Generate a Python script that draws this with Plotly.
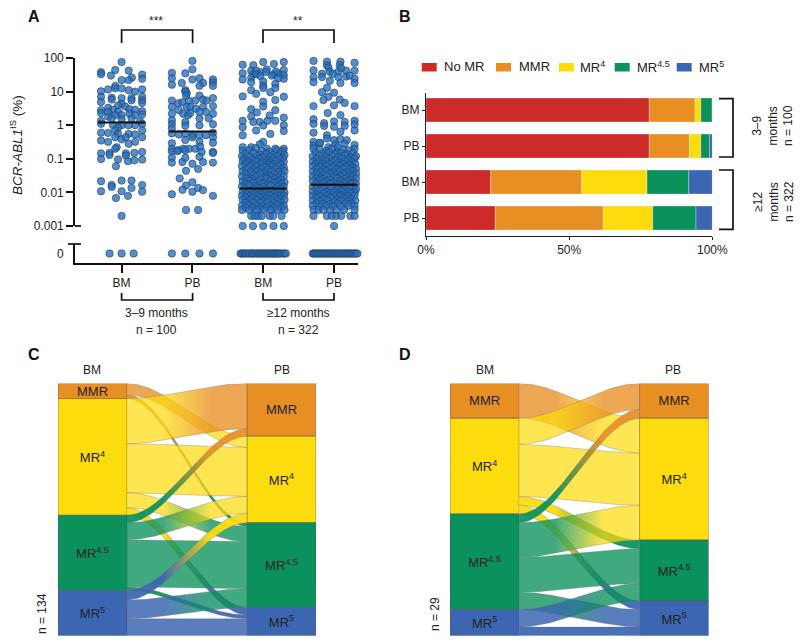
import numpy as np
import plotly.graph_objects as go

FONT = "Liberation Sans"
INK = "#222222"

# ---------- Panel A: (swarm offset, BCR-ABL1 IS %) ----------
bm_early = [(0,76),(-.29,38),(-.29,33),(-.09,44),(-.15,30),(.1,42),(.29,32),(.29,24),(.145,26),(.1,22),(0,22),
(-.09,14.7),(-.29,10.2),(-.19,11.6),(-.09,12.5),(0,12.5),(.1,11),(.19,10),(.29,11.6),
(-.29,7),(-.14,6.6),(-.14,5.8),(0,6.4),(.14,6.4),(.14,5.5),(.29,7),(.29,5.5),(-.29,4.9),(.29,4.6),
(0,4.3),(-.05,3.9),(.05,3.6),(-.19,3.3),(-.29,2.8),(-.29,2.3),(-.12,2.9),(-.19,2.5),(-.05,2.5),(.11,3),(.19,2.9),(.29,2.6),(.29,2.1),(.11,2.2),(-.09,2),(0,2),(.19,2),(-.19,1.8),
(-.29,1.35),(-.14,1.6),(.14,1.6),(0,1.5),(.26,1.3),(-.29,1.1),(-.12,1),(0,1),(-.05,.85),(.1,1),(.19,1),(.29,1.1),
(-.29,.6),(-.19,.59),(-.09,.7),(-.05,.56),(.1,.55),(.19,.53),(.29,.7),(-.29,.35),(-.19,.32),(-.09,.44),(0,.38),(.06,.44),(.1,.28),(.19,.32),(.29,.44),
(-.07,.22),(-.09,.2),(-.29,.145),(-.29,.098),(-.17,.15),(-.17,.13),(-.05,.096),(-.08,.06),(.06,.145),(.06,.125),(.09,.085),(.18,.15),(.18,.09),(.29,.16),(.29,.095),
(-.29,.0215),(-.14,.0167),(-.14,.0145),(0,.0225),(.14,.0225),(.14,.0136),(.29,.0165),(.29,.0105),(-.29,.0108),(0,.0108),(-.08,.0068),(.09,.0079),(0,.002)]
bm_early_zero = [-.17,0,.17]

pb_early = [(0,82),(0,46),(-.1,35),(-.29,36),(-.29,25),(-.29,16),(-.15,18),(.1,25),(0,23),(.15,18),(.1,15),(.29,23),(.29,19),(.29,15),(-.1,11),(-.08,9),(-.1,10),
(-.29,5.4),(-.2,4.5),(-.14,4.8),(.1,7.6),(.04,5.4),(.15,5.8),(.2,5.4),(.29,6.4),(-.05,5.4),(-.09,7.6),
(-.29,3.5),(-.29,2.2),(-.19,2.8),(-.08,3.5),(-.03,3.5),(.05,3.1),(-.13,2.2),(-.06,2),(-.03,2.3),(.15,3.5),(.29,3.7),(.1,1.6),(.19,2.5),(.29,2.2),(.1,2.5),(-.29,1.4),(-.29,1.07),(-.1,1.25),(-.1,.98),(.23,1.6),(.29,1.07),(.1,1),
(-.29,.57),(-.19,.53),(-.1,.57),(0,.5),(.1,.5),(.19,.5),(.29,.6),(-.29,.8),(-.1,.36),(0,.44),(.1,.32),(.29,.44),(.29,.3),(-.29,.29),(-.29,.2),(-.2,.18),(-.13,.2),(-.05,.2),(.04,.2),(.11,.23),(.29,.16),
(-.29,.164),(-.21,.17),(-.1,.18),(.13,.16),(.29,.15),(-.29,.109),(-.29,.077),(-.14,.08),(-.1,.107),(.1,.115),(.15,.08),(.29,.077),(0,.071),(-.09,.044),(.08,.05),
(-.18,.026),(0,.02),(-.09,.016),(-.14,.012),(0,.0105),(.08,.0136),(.15,.0117),(-.29,.0088),(.29,.0079),(-.09,.003),(.08,.003)]
pb_early_zero = [-.29,-.1,.1,.29]

bm_late = [(-.29,63),(-.14,61),(0,76),(.15,66),(.29,76),(.05,46),(-.04,38),(.22,34),
(-.29,35),(-.29,23),(-.17,42),(-.14,33),(-.17,26),(-.17,19),(-.1,42),(-.1,33),(-.04,29),(.04,39),(.15,33),(.18,39),(.29,44),(.29,31),(.29,24),(.21,25),(.12,30),(0,20),(0,15),(0,12.8),(.17,17),(.17,12.8),(.1,9.6),(-.29,7.2),(-.17,11),(-.1,8.6),(.17,5.6),(.29,7),(0,5),(0,3.6),(-.17,3),(-.09,2.4),(.17,2.8),(.09,1.95),(-.17,1.8),(-.29,1.35),(-.29,.87),(-.29,.5),(-.14,1.25),(-.1,.7),(-.05,1.25),(0,.98),(.06,1.35),(.17,1.35),(.29,1.68),(.29,1),(.29,.67),(.1,.55),(0,.32),(-.05,.27),(-.29,.22),(-.17,.22),(.05,.2),(.17,.2),(.29,.2),
(-.29,.175),(-.19,.18),(-.1,.21),(-.02,.17),(.08,.16),(.19,.18),(.28,.17),
(-.25,.14),(-.14,.15),(-.05,.135),(.04,.14),(.13,.13),(.24,.145),(.3,.13),
(-.3,.12),(-.2,.115),(-.09,.12),(0,.11),(.1,.115),(.2,.12),(.28,.105),
(-.27,.1),(-.16,.095),(-.06,.1),(.05,.09),(.15,.1),(.24,.095),
(-.29,.085),(-.21,.08),(-.11,.085),(-.01,.08),(.09,.078),(.18,.085),(.29,.082),
(-.25,.07),(-.15,.068),(-.04,.07),(.06,.066),(.14,.07),(.25,.067),
(-.3,.06),(-.19,.058),(-.09,.06),(.02,.056),(.11,.06),(.21,.058),(.29,.056),
(-.24,.05),(-.13,.048),(-.03,.05),(.07,.047),(.17,.05),(.26,.048),
(-.29,.042),(-.18,.041),(-.08,.043),(.01,.04),(.12,.042),(.22,.04),(.3,.043),
(-.25,.036),(-.14,.034),(-.04,.036),(.06,.034),(.15,.035),(.25,.034),
(-.3,.03),(-.2,.029),(-.09,.03),(.03,.029),(.11,.03),(.2,.028),(.29,.03),
(-.24,.026),(-.15,.025),(-.05,.024),(.05,.026),(.16,.025),(.25,.024),
(-.29,.021),(-.19,.022),(-.08,.021),(.01,.02),(.1,.022),(.2,.021),(.3,.02),
(-.25,.018),(-.14,.019),(-.03,.018),(.07,.017),(.15,.019),(.26,.018),
(-.3,.015),(-.2,.016),(-.1,.015),(0,.0145),(.11,.016),(.21,.015),(.29,.0145),
(-.26,.013),(-.15,.0125),(-.05,.013),(.05,.012),(.16,.0125),(.25,.013),
(-.29,.0105),(-.19,.011),(-.09,.0105),(.02,.01),(.12,.011),(.2,.0105),(.3,.01),
(-.24,.009),(-.14,.0092),(-.04,.009),(.07,.0088),(.15,.009),(.26,.0092),
(-.3,.008),(-.2,.0078),(-.08,.008),(.01,.0076),(.1,.008),(.21,.0078),(.29,.008),
(-.25,.007),(-.15,.0068),(-.05,.007),(.05,.0066),(.16,.007),(.24,.0068),
(-.29,.006),(-.19,.0058),(-.09,.006),(0,.0056),(.11,.006),(.2,.0058),(.3,.006),
(-.25,.005),(-.14,.005),(-.04,.0049),(.06,.005),(.15,.0048),(.25,.005),
(-.3,.004),(-.2,.0042),(-.1,.004),(-.01,.0039),(.1,.004),(.2,.0042),(.29,.004),
(-.25,.0035),(-.15,.0035),(-.05,.0034),(.05,.0035),(.15,.0034),(.25,.0035),
(-.3,.003),(-.2,.003),(-.09,.003),(.01,.003),(.11,.003),(.2,.003),(.3,.003),
(-.17,.002),(-.12,.002),(-.07,.002),(-.02,.002),(.09,.002),(.14,.002),(.26,.002),
(-.29,.001),(-.145,.001),(0,.001),(.145,.001),(.29,.001)]
bm_late_zero = [-.32,-.3,-.28,-.26,-.24,-.21,-.19,-.16,-.15,-.13,-.1,-.08,-.06,-.04,-.02,0,.02,.04,.06,.08,.1,.12,.14,.15,.17,.19,.21,.23,.25,.28,.3,.32]

pb_late = [(-.29,82),(-.1,78),(.09,78),(.29,72),(-.29,43),(-.29,27),(-.29,19),(-.17,34),(-.17,27),(-.1,61),(-.08,52),(-.06,39),(.08,61),(.06,39),(.06,27),(.09,18),(.17,42),(.17,28),(.29,42),(.29,24),(.29,18),(-.06,21),(-.1,13),(-.17,9.6),(0,9.3),(-.08,7),(-.15,5.6),(-.29,3.7),(0,3.9),(.08,5.8),(.15,4.6),(.29,3.7),(-.09,2.3),(.09,2),(.1,50),(.22,30),(-.02,34),
(-.29,1.5),(-.29,1.1),(-.29,.6),(-.14,1.15),(-.14,.95),(0,1.3),(0,.9),(.15,1.25),(.15,.95),(.29,1.35),(.29,1.05),(.29,.7),(.09,.64),(-.1,.5),(-.1,.4),(0,.36),(-.29,.32),(-.29,.25),(-.2,.29),(.09,.38),(.18,.36),(.29,.26),(-.08,.22),(.02,.27),(.15,.28),(.05,.22),(-.2,.3),
(-.29,.2),(-.2,.19),(-.11,.17),(-.03,.2),(.05,.16),(.13,.19),(.21,.18),(.29,.2),
(-.26,.15),(-.16,.14),(-.07,.155),(.02,.14),(.1,.15),(.19,.135),(.27,.15),
(-.3,.12),(-.21,.125),(-.12,.115),(-.03,.12),(.07,.115),(.15,.125),(.24,.11),(.31,.12),
(-.25,.1),(-.17,.095),(-.07,.1),(.02,.092),(.11,.1),(.2,.095),(.29,.1),
(-.3,.083),(-.21,.08),(-.12,.085),(-.03,.08),(.07,.078),(.16,.083),(.25,.08),
(-.26,.07),(-.16,.068),(-.07,.07),(.03,.066),(.12,.07),(.21,.067),(.3,.07),
(-.3,.06),(-.2,.058),(-.11,.06),(-.02,.056),(.08,.06),(.17,.058),(.26,.056),
(-.25,.05),(-.15,.048),(-.06,.05),(.04,.047),(.13,.05),(.22,.048),(.31,.05),
(-.3,.042),(-.2,.041),(-.11,.043),(-.01,.04),(.08,.042),(.18,.04),(.27,.043),
(-.25,.036),(-.15,.034),(-.06,.036),(.04,.034),(.13,.035),(.23,.034),(.31,.036),
(-.3,.03),(-.2,.029),(-.1,.03),(-.01,.029),(.09,.03),(.18,.028),(.27,.03),
(-.25,.026),(-.16,.025),(-.06,.024),(.04,.026),(.14,.025),(.23,.024),(.31,.026),
(-.3,.022),(-.2,.022),(-.11,.021),(-.01,.02),(.09,.022),(.19,.021),(.28,.02),
(-.25,.018),(-.15,.019),(-.05,.018),(.05,.017),(.14,.019),(.24,.018),(.31,.018),
(-.3,.015),(-.2,.016),(-.1,.015),(0,.0145),(.09,.016),(.19,.015),(.28,.0145),
(-.25,.013),(-.15,.0125),(-.05,.013),(.05,.012),(.14,.0125),(.24,.013),(.31,.0125),
(-.3,.0105),(-.2,.011),(-.1,.0105),(0,.01),(.1,.011),(.2,.0105),(.29,.01),
(-.25,.009),(-.15,.0092),(-.05,.009),(.05,.0088),(.14,.009),(.24,.0092),
(-.3,.008),(-.2,.0078),(-.1,.008),(0,.0076),(.09,.008),(.19,.0078),(.29,.008),
(-.25,.0068),(-.15,.0065),(-.05,.0068),(.05,.0063),(.14,.0067),(.24,.0065),
(-.3,.0057),(-.2,.0055),(-.1,.0057),(0,.0053),(.1,.0057),(.2,.0054),(.3,.0056),
(-.25,.0047),(-.16,.0046),(-.06,.0045),(.05,.0047),(.16,.0046),(.25,.0047),
(-.3,.004),(-.2,.0038),(-.11,.004),(-.01,.0039),(.1,.0038),(.2,.004),(.29,.0039),
(-.29,.003),(-.22,.003),(-.15,.003),(-.05,.003),(.03,.003),(.14,.003),(.29,.003),
(-.29,.002),(-.1,.002),(-.03,.002),(.03,.002),(.1,.002),(.23,.002),(.29,.002),
(0,.001)]
pb_late_zero = [-.3,-.29,-.27,-.25,-.23,-.21,-.19,-.17,-.15,-.13,-.11,-.09,-.07,-.05,-.03,-.01,.01,.03,.05,.07,.09,.11,.13,.15,.17,.19,.21,.23,.25,.27,.29,.31,.33]

swarms = [bm_early, pb_early, bm_late, pb_late]
swarm_zeros = [bm_early_zero, pb_early_zero, bm_late_zero, pb_late_zero]
medians = [1.2, 0.65, 0.013, 0.017]
medians_halfwidth = 0.33
group_labels = ["BM", "PB", "BM", "PB"]
log_ticks = [100, 10, 1, 0.1, 0.01, 0.001]
log_tick_labels = ["100", "10", "1", "0.1", "0.01", "0.001"]

# ---------- Panel B ----------
b_rows = ["BM", "PB", "BM", "PB"]
b_no_mr = [78, 78, 22.6, 24.2]
b_mmr = [16, 14, 31.8, 37.7]
b_mr4 = [2, 4, 22.8, 17.3]
b_mr45 = [4, 3, 14.6, 15.1]
b_mr5 = [0, 1, 8.2, 5.7]

# ---------- Panels C, D: patients moving from BM class (row) to PB class (col) ----------
classes = ["MMR", "MR<sup>4</sup>", "MR<sup>4.5</sup>", "MR<sup>5</sup>"]
c_from_mmr = [0, 6, 2, 0]
c_from_mr4 = [24, 26, 8, 4]
c_from_mr45 = [4, 9, 25, 2]
c_from_mr5 = [0, 5, 10, 9]
d_from_mmr = [0, 4, 0, 0]
d_from_mr4 = [3, 6, 1, 1]
d_from_mr45 = [1, 4, 4, 2]
d_from_mr5 = [0, 0, 2, 1]

RED, ORANGE, YELLOW, GREEN, BLUE = "#CD2A2A", "#E88F24", "#FDDC0E", "#0A915C", "#3C66B1"
CLASS_RGB = [(232, 143, 36), (253, 220, 14), (10, 145, 92), (60, 102, 177)]
CLASS_ALPHA = [0.78, 0.72, 0.78, 0.85]
THIN_ALPHA = 0.93
THIN_SHARE = 0.04


def X(px):
    return px / 800


def Y(py):
    return 1 - py / 644


fig = go.Figure()
AXIS_W = 1.7
COL_HALF = 0.1825  # half of the node width in column units


def rgba(i, alpha=None):
    r, g, b = CLASS_RGB[i]
    return f"rgba({r},{g},{b},{CLASS_ALPHA[i] if alpha is None else alpha})"


# ---- A ----
for k, (pts, zeros) in enumerate(zip(swarms, swarm_zeros)):
    common = dict(mode="markers", showlegend=False, hoverinfo="skip", cliponaxis=False,
                  marker=dict(size=7.4, color="rgba(35,112,192,0.78)",
                              line=dict(width=0.8, color="rgba(40,60,90,0.75)")))
    fig.add_trace(go.Scatter(x=[k + p[0] for p in pts], y=[p[1] for p in pts], xaxis="x", yaxis="y", **common))
    fig.add_trace(go.Scatter(x=[k + z for z in zeros], y=[0] * len(zeros), xaxis="x2", yaxis="y2", **common))
for k, m in enumerate(medians):
    fig.add_trace(go.Scatter(x=[k - medians_halfwidth, k + medians_halfwidth], y=[m, m], mode="lines",
                             line=dict(color="#111111", width=2), xaxis="x", yaxis="y",
                             showlegend=False, hoverinfo="skip"))

# ---- B ----
b_series = [("No MR", b_no_mr, RED), ("MMR", b_mmr, ORANGE), ("MR4", b_mr4, YELLOW),
            ("MR4.5", b_mr45, GREEN), ("MR5", b_mr5, BLUE)]
base = np.zeros(4)
for name, vals, col in b_series:
    fig.add_trace(go.Bar(x=vals, y=list(range(4)), base=list(base), orientation="h", width=0.667,
                         marker=dict(color=col, line=dict(width=0.6, color="rgba(255,255,255,0.5)")),
                         name=name, showlegend=False, hoverinfo="skip", xaxis="x3", yaxis="y3"))
    base = base + np.array(vals)


# ---- C, D ----
def sankey(matrix, xa, ya):
    m = np.array(matrix, dtype=float)
    n = len(m)
    total = m.sum()
    left_start = np.concatenate([[0], np.cumsum(m.sum(axis=1))])
    right_start = np.concatenate([[0], np.cumsum(m.sum(axis=0))])
    t = np.linspace(0, 1, 45)
    s = t * t * (3 - 2 * t)
    xs = COL_HALF + (1 - 2 * COL_HALF) * t
    for i in range(n):
        for j in range(n):
            if m[i, j] == 0:
                continue
            l0 = left_start[i] + m[i, :j].sum()
            r0 = right_start[j] + m[:i, j].sum()
            top = l0 + (r0 - l0) * s
            bot = top + m[i, j]
            alpha = THIN_ALPHA if m[i, j] / total < THIN_SHARE else None
            cs = [[0, rgba(i, alpha)], [0.3, rgba(i, alpha)], [0.7, rgba(j, alpha)], [1, rgba(j, alpha)]]
            fig.add_trace(go.Scatter(
                x=np.concatenate([xs, xs[::-1]]), y=np.concatenate([top, bot[::-1]]),
                mode="lines", fill="toself", fillgradient=dict(type="horizontal", colorscale=cs),
                line=dict(width=0.7, color="rgba(110,110,110,0.45)"),
                xaxis=xa, yaxis=ya, showlegend=False, hoverinfo="skip"))
    cols = [ORANGE, YELLOW, GREEN, BLUE]
    for i in range(n):
        fig.add_trace(go.Bar(
            x=[0, 1], y=[m[i].sum(), m[:, i].sum()], base=[left_start[i], right_start[i]],
            width=2 * COL_HALF, marker=dict(color=cols[i], line=dict(width=0.8, color="rgba(90,90,90,0.7)")),
            text=[classes[i]] * 2, textposition="inside", insidetextanchor="middle", textangle=0,
            constraintext="none", textfont=dict(size=13, color=INK, family=FONT),
            xaxis=xa, yaxis=ya, showlegend=False, hoverinfo="skip"))
    return total


n_c = sankey([c_from_mmr, c_from_mr4, c_from_mr45, c_from_mr5], "x4", "y4")
n_d = sankey([d_from_mmr, d_from_mr4, d_from_mr45, d_from_mr5], "x5", "y5")


# ---- decoration ----
def path_shape(points, width=AXIS_W, color="#111111"):
    d = "M" + " L".join(f"{X(a):.5f},{Y(b):.5f}" for a, b in points)
    return dict(type="path", path=d, xref="paper", yref="paper", line=dict(color=color, width=width))


shapes = [
    path_shape([(121.6, 43), (121.6, 30), (192.6, 30), (192.6, 43)]),
    path_shape([(263, 43), (263, 30), (334, 30), (334, 43)]),
    path_shape([(121.6, 293), (121.6, 300), (192.6, 300), (192.6, 293)]),
    path_shape([(263, 293), (263, 300), (334, 300), (334, 293)]),
    path_shape([(75, 226), (81, 226)]),
    path_shape([(68, 244), (81, 244)]),
    path_shape([(719, 98.7), (733, 98.7), (733, 157), (719, 157)]),
    path_shape([(719, 170), (733, 170), (733, 229.3), (719, 229.3)]),
]
legend_swatches = [(421.7, RED), (496, ORANGE), (559, YELLOW), (614.7, GREEN), (676.7, BLUE)]
for sx, col in legend_swatches:
    shapes.append(dict(type="rect", xref="paper", yref="paper", x0=X(sx), x1=X(sx + 15), y0=Y(71.5), y1=Y(63),
                       fillcolor=col, line=dict(width=0)))


def note(px, py, text, size=12, anchor="center", angle=0, color=INK, bold=False):
    return dict(x=X(px), y=Y(py), xref="paper", yref="paper", text=f"<b>{text}</b>" if bold else text,
                showarrow=False, xanchor=anchor, yanchor="middle", textangle=angle,
                font=dict(family=FONT, size=size, color=color))


annotations = [
    note(34, 16, "A", 16, bold=True, color="#111111"), note(405, 16, "B", 16, bold=True, color="#111111"),
    note(34, 354, "C", 16, bold=True, color="#111111"), note(405, 354, "D", 16, bold=True, color="#111111"),
    note(156, 21, "***", 12), note(298, 21, "**", 12),
    note(16, 145, "<i>BCR-ABL1</i><sup>IS</sup> (%)", 13.5, angle=-90),
    note(156, 313, "3–9 months", 12), note(156, 330, "n = 100", 12),
    note(298, 313, "≥12 months", 12), note(298, 330, "n = 322", 12),
    note(442, 66.5, "No MR", 13, "left"), note(516.7, 66.5, "MMR", 13, "left"),
    note(578, 66.5, "MR<sup>4</sup>", 13, "left"), note(635, 66.5, "MR<sup>4.5</sup>", 13, "left"),
    note(697, 66.5, "MR<sup>5</sup>", 13, "left"),
    note(773, 126, "3–9<br>months<br>n = 100", 12, angle=-90),
    note(773, 202, "≥12<br>months<br>n = 322", 12, angle=-90),
    note(92, 370, "BM", 12), note(282, 370, "PB", 12),
    note(485, 370, "BM", 12), note(673, 370, "PB", 12),
    note(42, 614, "n = 134", 12, angle=-90), note(435, 614, "n = 29", 12, angle=-90),
]

tick_font = dict(family=FONT, size=12, color=INK)
hidden = dict(visible=False, showgrid=False, zeroline=False)
a_range = [-0.658, 3.338]
layout_axes = dict(
    xaxis=dict(domain=[X(75), X(358)], range=a_range, anchor="y", **hidden),
    yaxis=dict(domain=[Y(226), Y(58)], type="log", range=[-3, 2], anchor="x", showgrid=False, zeroline=False,
               showline=True, linecolor="#111111", linewidth=AXIS_W, ticks="outside", ticklen=7,
               tickwidth=AXIS_W, tickcolor="#111111", tickvals=log_ticks, ticktext=log_tick_labels,
               tickfont=tick_font),
    xaxis2=dict(domain=[X(75), X(358)], range=a_range, anchor="y2", showgrid=False, zeroline=False,
                showline=True, linecolor="#111111", linewidth=AXIS_W, ticks="outside", ticklen=8,
                tickwidth=AXIS_W, tickcolor="#111111", tickvals=[0, 1, 2, 3], ticktext=group_labels,
                tickfont=tick_font),
    yaxis2=dict(domain=[Y(263), Y(244)], range=[-1, 1], anchor="x2", showgrid=False, zeroline=False,
                showline=True, linecolor="#111111", linewidth=AXIS_W, ticks="outside", ticklen=7,
                tickcolor="rgba(0,0,0,0)", tickvals=[0], ticktext=["0"], tickfont=tick_font),
    xaxis3=dict(domain=[X(426), X(712.3)], range=[0, 100], anchor="y3", showgrid=False, zeroline=False,
                showline=True, linecolor="#222222", linewidth=1.2, ticks="outside", ticklen=3,
                tickwidth=1, tickcolor="#222222", tickvals=[0, 50, 100], ticktext=["0%", "50%", "100%"],
                tickfont=tick_font),
    yaxis3=dict(domain=[Y(235.7), Y(93)], range=[3.49, -0.472], anchor="x3", showgrid=False, zeroline=False,
                showline=True, linecolor="#222222", linewidth=1.2, ticks="outside", ticklen=3,
                tickwidth=1, tickcolor="#222222", tickvals=[0, 1, 2, 3], ticktext=b_rows, tickfont=tick_font),
    xaxis4=dict(domain=[X(58), X(316)], range=[-COL_HALF, 1 + COL_HALF], anchor="y4", **hidden),
    yaxis4=dict(domain=[Y(635.7), Y(383.5)], range=[n_c, 0], anchor="x4", **hidden),
    xaxis5=dict(domain=[X(450), X(708.7)], range=[-COL_HALF, 1 + COL_HALF], anchor="y5", **hidden),
    yaxis5=dict(domain=[Y(635.7), Y(383.5)], range=[n_d, 0], anchor="x5", **hidden),
)

fig.update_layout(width=800, height=644, autosize=False,
                  margin=dict(l=0, r=0, t=0, b=0, pad=0, autoexpand=False),
                  paper_bgcolor="white", plot_bgcolor="rgba(0,0,0,0)", barmode="overlay",
                  showlegend=False, font=dict(family=FONT, size=12, color=INK),
                  shapes=shapes, annotations=annotations, **layout_axes)

fig.write_html("out.html", config=dict(displayModeBar=False),
               post_script="document.body.style.margin='0';document.documentElement.style.overflow='hidden';")
